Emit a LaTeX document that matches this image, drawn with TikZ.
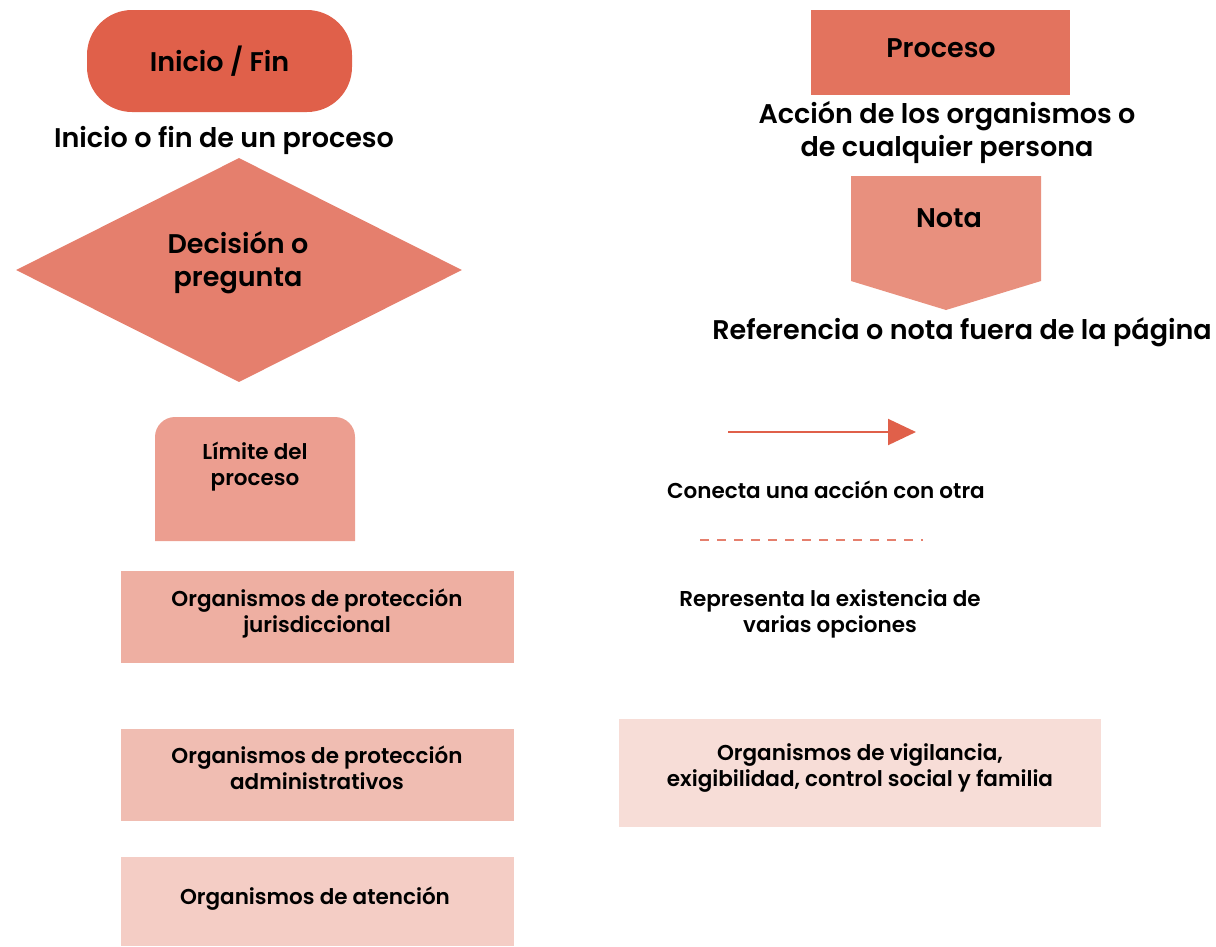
\documentclass[tikz,border=0pt]{standalone}
\usepackage{fontspec}
\setmainfont{Poppins}[BoldFont={Poppins SemiBold}]
\usetikzlibrary{shapes.geometric,arrows.meta}

\definecolor{terminalred}{HTML}{E0604A}
\definecolor{procesored}{HTML}{E3735E}
\definecolor{decisionred}{HTML}{E57F6D}
\definecolor{notared}{HTML}{E8907E}
\definecolor{limitered}{HTML}{EC9E90}
\definecolor{orgjuris}{HTML}{EEAFA2}
\definecolor{orgadmin}{HTML}{F0BDB2}
\definecolor{orgatencion}{HTML}{F4CDC5}
\definecolor{orgvigila}{HTML}{F7DDD7}

\tikzset{
  bigtxt/.style={font=\bfseries\fontsize{27}{33}\selectfont, align=center, inner sep=0pt},
  smalltxt/.style={font=\bfseries\fontsize{21.5}{26}\selectfont, align=center, inner sep=0pt},
  orgbox/.style={rectangle, minimum width=393pt, minimum height=92pt, inner sep=0pt},
}

\begin{document}
\begin{tikzpicture}[x=1pt,y=1pt]
\useasboundingbox (0,0) rectangle (1216,-946);

% simbolos de la izquierda
\node[rectangle, rounded corners=45pt, fill=terminalred, minimum width=265pt, minimum height=102pt,
  bigtxt] (inicio) at (219.5,-61) {Inicio / Fin};
\node[bigtxt] (inicioTxt) at (224,-140) {Inicio o fin de un proceso};
\node[diamond, fill=decisionred, minimum width=446pt, minimum height=224pt, inner sep=0pt]
  (decision) at (239,-270) {};
\node[bigtxt] (decisionTxt) at (238,-263) {Decisión o\\pregunta};

\fill[limitered] (155,-541) -- (155,-437) arc(180:90:20) -- (335,-417) arc(90:0:20) -- (355,-541) -- cycle;
\node[smalltxt] (limite) at (255,-467) {Límite del\\proceso};

\node[orgbox, fill=orgjuris] (juris) at (317.5,-617) {};
\node[smalltxt] at (317,-614) {Organismos de protección\\jurisdiccional};
\node[orgbox, fill=orgadmin] (admin) at (317.5,-775) {};
\node[smalltxt] at (317,-768) {Organismos de protección\\administrativos};
\node[orgbox, fill=orgatencion, minimum height=89pt] (atencion) at (317.5,-901.5) {};
\node[smalltxt] at (315,-899) {Organismos de atención};

% simbolos de la derecha
\node[rectangle, fill=procesored, minimum width=259pt, minimum height=85pt, inner sep=0pt]
  (proceso) at (940.5,-52.5) {};
\node[bigtxt] (procesoTxt) at (941,-48) {Proceso};
\node[bigtxt] (accion) at (947,-133) {Acción de los organismos o\\de cualquier persona};

\fill[notared] (851,-176) -- (1041,-176) -- (1041,-281) -- (946,-310) -- (851,-281) -- cycle;
\node[bigtxt] (nota) at (949,-218) {Nota};
\node[bigtxt] (referencia) at (962,-332) {Referencia o nota fuera de la página};

\coordinate (flechaA) at (728,-432);
\coordinate (flechaB) at (916,-432);
\draw[terminalred, line width=2pt, -{Triangle[length=28pt,width=26pt]}] (flechaA) -- (flechaB);
\node[smalltxt] (conecta) at (826,-490) {Conecta una acción con otra};

\coordinate (opcionA) at (700,-540);
\coordinate (opcionB) at (923,-540);
\draw[decisionred, line width=2pt, dash pattern=on 9pt off 8pt] (opcionA) -- (opcionB);
\node[smalltxt] (representa) at (830,-614) {Representa la existencia de\\varias opciones};

\node[orgbox, fill=orgvigila, minimum width=482pt, minimum height=108pt] (vigila) at (860,-773) {};
\node[smalltxt] at (860,-768) {Organismos de vigilancia,\\exigibilidad, control social y familia};
\end{tikzpicture}
\end{document}
